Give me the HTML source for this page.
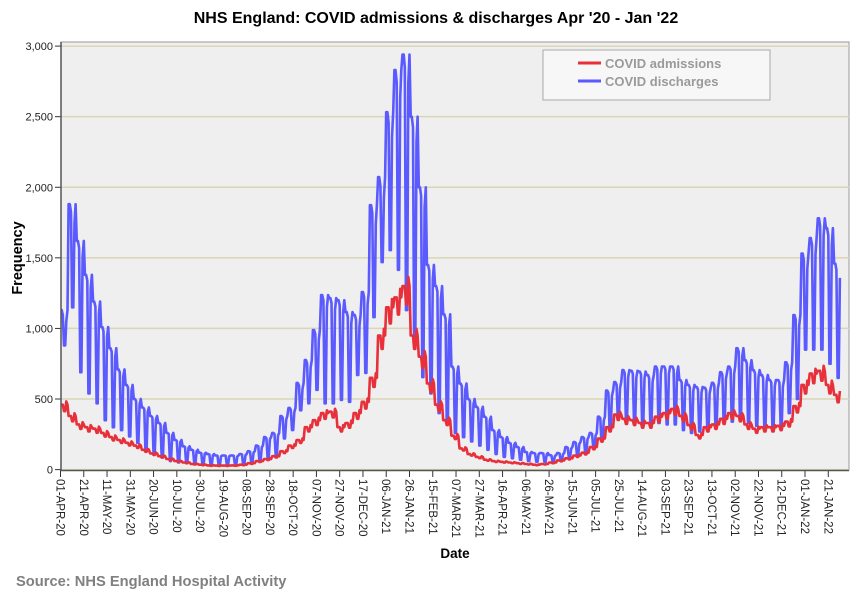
<!DOCTYPE html>
<html><head><meta charset="utf-8"><style>
body{margin:0;background:#fff;}
svg{display:block;font-family:"Liberation Sans",Arial,sans-serif;}
</style></head><body>
<svg id="chart" width="866" height="599" viewBox="0 0 866 599" xmlns="http://www.w3.org/2000/svg">
<rect width="866" height="599" fill="#fff"/>
<text x="436" y="23" text-anchor="middle" font-size="16" font-weight="bold" fill="#000">NHS England: COVID admissions &amp; discharges Apr '20 - Jan '22</text>
<rect x="61" y="42" width="788" height="428" fill="#efefef" stroke="#999" stroke-width="1"/>
<g id="grid"></g>
<g id="yticks"></g>
<g id="xticks"></g>
<g id="series"></g>
<line x1="61" y1="42" x2="61" y2="471" stroke="#555" stroke-width="1.5"/>
<line x1="61" y1="470.5" x2="849" y2="470.5" stroke="#555" stroke-width="1.5"/>
<text transform="translate(22,258) rotate(-90)" text-anchor="middle" font-size="14.5" font-weight="bold">Frequency</text>
<text x="455" y="558" text-anchor="middle" font-size="13.5" font-weight="bold">Date</text>
<text x="16" y="586" font-size="14.7" font-weight="bold" fill="#808080">Source: NHS England Hospital Activity</text>
<g>
<rect x="543" y="50" width="227" height="50" fill="#f7f7f7" stroke="#aaa"/>
<line x1="578" y1="63" x2="601" y2="63" stroke="#e8303a" stroke-width="3"/>
<text x="605" y="68" font-size="13" font-weight="bold" fill="#9a9a9a">COVID admissions</text>
<line x1="578" y1="81" x2="601" y2="81" stroke="#5a5aff" stroke-width="3"/>
<text x="605" y="86" font-size="13" font-weight="bold" fill="#9a9a9a">COVID discharges</text>
</g>
</svg>
<script>
// weekly values starting Wed 01-Apr-2020
const dischargeWeekdayPeak=[1130,1880,1620,1380,1190,1010,860,710,600,500,440,380,330,260,210,165,140,120,110,100,100,100,110,130,170,230,260,380,437,614,776,989,1236,1215,1200,1116,1095,1258,1873,2072,2532,2830,2940,2500,2000,1450,1300,1100,730,610,500,445,375,280,230,190,160,125,117,117,103,117,160,195,230,260,375,560,620,705,700,695,670,730,730,730,635,600,585,580,615,690,730,860,775,705,670,635,635,760,1095,1530,1640,1780,1710,1460,1235];
const dischargeWeekendLow=[880,1150,690,540,470,350,300,280,235,190,140,105,85,60,50,45,40,35,30,30,30,30,35,45,60,80,100,220,280,420,470,565,470,470,494,480,670,685,1080,1470,1555,1415,1130,900,655,540,400,350,260,230,200,170,140,110,90,80,70,60,55,55,55,60,80,100,120,150,200,280,375,353,340,330,330,330,320,320,280,260,270,280,300,330,340,360,330,310,300,300,310,400,500,850,850,850,750,650,650];
const admissionsWeekly=[460,380,320,300,290,260,230,210,190,170,140,115,95,75,60,50,40,35,30,28,28,30,35,45,60,75,95,130,170,210,300,350,400,410,300,330,400,480,650,950,1150,1220,1300,950,800,610,460,350,240,150,110,90,70,60,55,50,45,40,35,40,50,65,80,100,120,160,220,300,390,360,350,330,330,375,400,430,380,315,245,300,320,360,400,380,320,290,300,300,310,340,450,600,680,700,600,530];
const xTickLabels=["01-APR-20","21-APR-20","11-MAY-20","31-MAY-20","20-JUN-20","10-JUL-20","30-JUL-20","19-AUG-20","08-SEP-20","28-SEP-20","18-OCT-20","07-NOV-20","27-NOV-20","17-DEC-20","06-JAN-21","26-JAN-21","15-FEB-21","07-MAR-21","27-MAR-21","16-APR-21","06-MAY-21","26-MAY-21","15-JUN-21","05-JUL-21","25-JUL-21","14-AUG-21","03-SEP-21","23-SEP-21","13-OCT-21","02-NOV-21","22-NOV-21","12-DEC-21","01-JAN-22","21-JAN-22"];
const yTickValues=[0,500,1000,1500,2000,2500,3000];
const yTickLabels=["0","500","1,000","1,500","2,000","2,500","3,000"];
const nDays=671;
const xS=d=>60.5+d*1.1633;
const yS=v=>469.6-v*0.14117;
const NS="http://www.w3.org/2000/svg";
function mk(tag,parent,attrs){const e=document.createElementNS(NS,tag);for(const k in attrs)e.setAttribute(k,attrs[k]);parent.appendChild(e);return e;}
const grid=document.getElementById('grid'),yt=document.getElementById('yticks'),xt=document.getElementById('xticks'),ser=document.getElementById('series');
yTickValues.forEach((v,i)=>{
  const g=mk('line',grid,{x1:61,x2:849,y1:yS(v),y2:yS(v),stroke:'#d9d5b5','stroke-width':1.5});
  
  
  mk('line',yt,{x1:55,x2:61,y1:yS(v),y2:yS(v),stroke:'#333'});
  const t=mk('text',yt,{x:53,y:yS(v)+4,'text-anchor':'end','font-size':11,fill:'#222'});
  t.textContent=yTickLabels[i];
  
  
});
xTickLabels.forEach((lab,i)=>{
  const x=xS(i*20);
  mk('line',xt,{x1:x,x2:x,y1:470,y2:477,stroke:'#333'});
  const t=mk('text',xt,{transform:`translate(${x-4},479) rotate(90)`,'font-size':11.5,fill:'#222'});
  t.textContent=lab;
  
  
});
const dis=[],adm=[];
for(let d=0;d<nDays;d++){
  const w=Math.floor(d/7),dow=d%7;
  const H=dischargeWeekdayPeak[w],L=dischargeWeekendLow[w],A=admissionsWeekly[w];
  const f=[1,1,0.97,0,0,0.93,1][dow];
  dis.push(dow===3||dow===4?L:H*f);
  adm.push(dow===3||dow===4?A*0.9:A*(dow===5?1.05:1));
}
function path(arr,color,name){
  const p=mk('path',ser,{d:arr.map((v,i)=>(i?'L':'M')+xS(i).toFixed(1)+' '+yS(v).toFixed(1)).join(''),fill:'none',stroke:color,'stroke-width':2.6,'stroke-linejoin':'round'});
  
  
}
path(dis,'#5a5aff','discharges-line');
path(adm,'#e8303a','admissions-line');
</script>
</body></html>
